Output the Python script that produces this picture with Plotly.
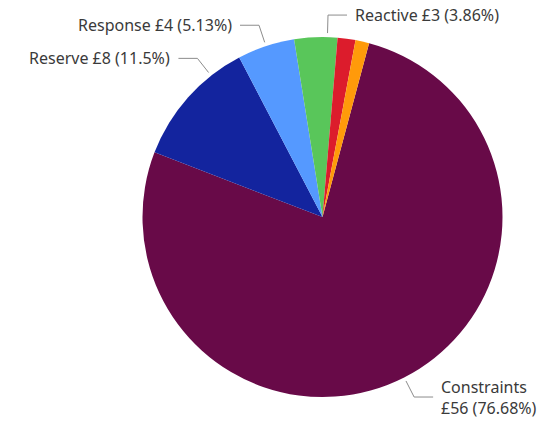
import math
import plotly.graph_objects as go

# Cost breakdown (£) by category, in drawing order
categories = ["Constraints", "Reserve", "Response", "Reactive", "Other A", "Other B"]
values = [56.0, 8.40, 3.746, 2.819, 1.17, 0.897]
colors = ["#680A48", "#13249E", "#5599FF", "#59C65A", "#DC1C2C", "#FF9A0A"]
show_label = [True, True, True, True, False, False]
label_nudge = [0, 10, 0, 3.7, 0, 0]  # degrees, to keep leader lines apart

W, H = 542, 423
CX, CY, R = 322.5, 217, 180
ROTATION = 15

total = sum(values)

fig = go.Figure(go.Pie(
    labels=categories,
    values=values,
    marker=dict(colors=colors, line=dict(width=0)),
    sort=False,
    direction="clockwise",
    rotation=ROTATION,
    textinfo="none",
    hoverinfo="label+value+percent",
    domain=dict(x=[(CX - R) / W, (CX + R) / W],
                y=[1 - (CY + R) / H, 1 - (CY - R) / H]),
    showlegend=False,
))


def px(x, y):
    return x / W, 1 - y / H


shapes, annotations = [], []
cum = 0.0
for name, v, show, nudge in zip(categories, values, show_label, label_nudge):
    mid = ROTATION + 360 * (cum + v / 2) / total + nudge
    cum += v
    if not show:
        continue
    a = math.radians(mid)
    sx, sy = math.sin(a), -math.cos(a)
    x0, y0 = CX + (R + 4) * sx, CY + (R + 4) * sy
    x1, y1 = CX + (R + 22) * sx, CY + (R + 22) * sy
    side = 1 if sx >= 0 else -1
    x2 = x1 + side * 19
    pts = [px(x0, y0), px(x1, y1), px(x2, y1)]
    path = "M {} {} L {} {} L {} {}".format(*[c for p in pts for c in p])
    shapes.append(dict(type="path", path=path, xref="paper", yref="paper",
                       line=dict(color="#8c8c8c", width=1)))
    pct = f"{round(100 * v / total, 2):g}"
    if name == "Constraints":
        txt = f"{name}<br>£{v:.0f} ({pct}%)"
    else:
        txt = f"{name} £{v:.0f} ({pct}%)"
    tx, ty = px(x2 + side * 6, y1)
    annotations.append(dict(text=txt, x=tx, y=ty, xref="paper", yref="paper",
                            xanchor="left" if side > 0 else "right",
                            yanchor="middle", showarrow=False, align="left",
                            font=dict(family="Noto Sans", size=16, color="#3a3a3a")))

fig.update_layout(
    width=W, height=H,
    margin=dict(l=0, r=0, t=0, b=0),
    paper_bgcolor="white",
    shapes=shapes,
    annotations=annotations,
)

fig.write_html("out.html")
